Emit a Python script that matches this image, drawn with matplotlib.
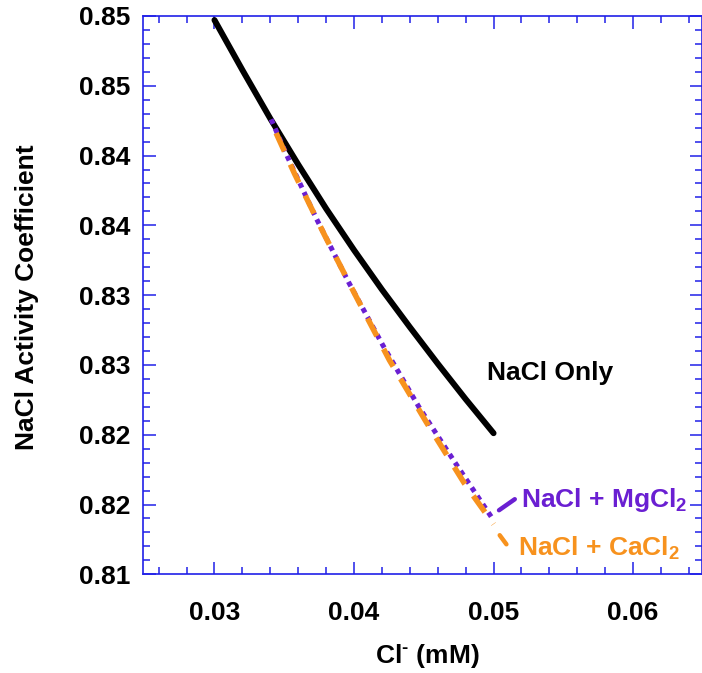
import matplotlib
matplotlib.use("Agg")
import matplotlib.pyplot as plt
from matplotlib.ticker import MultipleLocator, FixedLocator, FixedFormatter

plt.rcParams['font.family'] = ['Liberation Sans', 'DejaVu Sans']
plt.rcParams['font.weight'] = 'bold'
plt.rcParams['mathtext.fontset'] = 'custom'
plt.rcParams['mathtext.rm'] = 'Liberation Sans:bold'
plt.rcParams['mathtext.default'] = 'rm'

# data
nacl_x = [0.030, 0.032, 0.034, 0.036, 0.038, 0.040, 0.042, 0.044, 0.046, 0.048, 0.050]
nacl_y = [0.84971, 0.84613, 0.84265, 0.83936, 0.83620, 0.83323,
          0.83040, 0.82771, 0.82509, 0.82255, 0.82011]

mg_x = [0.03406, 0.03525, 0.03733, 0.03960, 0.04206, 0.04465, 0.04721, 0.04984, 0.0500]
mg_y = [0.84260, 0.83987, 0.83543, 0.83095, 0.82642, 0.82199, 0.81805, 0.81411, 0.81394]

ca_x = [0.03442, 0.03573, 0.03789, 0.04016, 0.04254, 0.04517, 0.04792, 0.0500]
ca_y = [0.84161, 0.83872, 0.83430, 0.82988, 0.82534, 0.82092, 0.81650, 0.81359]

xticks = [0.03, 0.04, 0.05, 0.06]
xtick_labels = ['0.03', '0.04', '0.05', '0.06']
yticks = [0.81, 0.815, 0.82, 0.825, 0.83, 0.835, 0.84, 0.845, 0.85]
ytick_labels = ['0.81', '0.82', '0.82', '0.83', '0.83', '0.84', '0.84', '0.85', '0.85']

black = 'black'
purple = '#6a1fd2'
orange = '#f7921e'
blue = '#2020e8'

fig = plt.figure(figsize=(7.02, 6.73), dpi=100)
ax = fig.add_axes([143.3 / 702, 98.7 / 673, 558.2 / 702, 558.3 / 673])

ax.plot(nacl_x, nacl_y, color=black, lw=4.3, solid_capstyle='round', solid_joinstyle='round')
ax.plot(mg_x, mg_y, color=purple, lw=3.6, linestyle=(0, (1, 1.0)))
ax.plot(ca_x, ca_y, color=orange, lw=4.0, linestyle=(0, (3.6, 2.6)))

ax.set_xlim(0.0249, 0.0649)
ax.set_ylim(0.81, 0.85)

ax.xaxis.set_major_locator(FixedLocator(xticks))
ax.xaxis.set_major_formatter(FixedFormatter(xtick_labels))
ax.xaxis.set_minor_locator(MultipleLocator(0.002))
ax.yaxis.set_major_locator(FixedLocator(yticks))
ax.yaxis.set_major_formatter(FixedFormatter(ytick_labels))
ax.yaxis.set_minor_locator(MultipleLocator(0.001))

ax.tick_params(which='both', direction='in', top=True, right=True, color=blue, width=1.1)
ax.tick_params(which='major', length=9, labelsize=19)
ax.tick_params(axis='x', which='major', pad=19)
ax.tick_params(axis='y', which='major', pad=9)
ax.tick_params(which='minor', length=4.7)
for s in ax.spines.values():
    s.set_color(blue)
    s.set_linewidth(1.2)

# series labels
ax.text(0.04951, 0.82391, 'NaCl Only', fontsize=19, color=black, va='baseline')
ax.text(0.05200, 0.81480, 'NaCl + MgCl$_2$', fontsize=19, color=purple, va='baseline')
ax.text(0.05174, 0.81136, 'NaCl + CaCl$_2$', fontsize=19, color=orange, va='baseline')

# short leader lines
ax.annotate('', xy=(0.05039, 0.81459), xytext=(0.05152, 0.81538),
            arrowprops=dict(arrowstyle='-', color=purple, lw=3.2, shrinkA=0, shrinkB=0))
ax.annotate('', xy=(0.05044, 0.81280), xytext=(0.05092, 0.81215),
            arrowprops=dict(arrowstyle='-', color=orange, lw=3.2, shrinkA=0, shrinkB=0))

fig.text(27 / 702, 1 - 297 / 673, 'NaCl Activity Coefficient', fontsize=19,
         rotation=90, ha='center', va='center')
fig.text(427 / 702, 1 - 656 / 673, r'Cl$^{\text{-}}$ (mM)', fontsize=19, ha='center', va='center')

fig.savefig('out.png', dpi=100)
